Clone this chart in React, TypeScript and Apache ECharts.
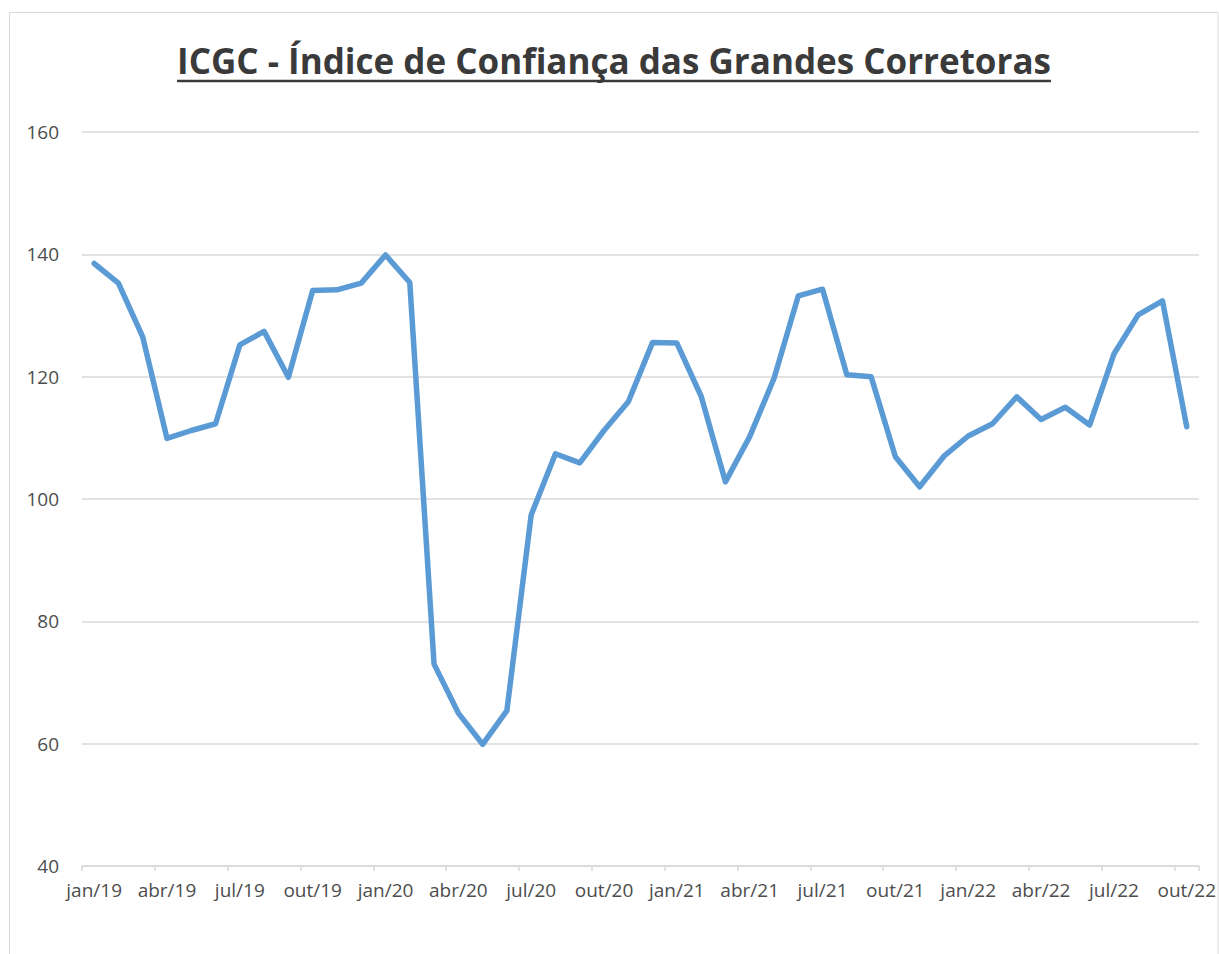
import React, { useEffect, useRef } from "react";
import * as echarts from "echarts";

const TITLE = "ICGC - Índice de Confiança das Grandes Corretoras";

const categories = [
  "jan/19", "fev/19", "mar/19", "abr/19", "mai/19", "jun/19", "jul/19", "ago/19", "set/19", "out/19", "nov/19", "dez/19",
  "jan/20", "fev/20", "mar/20", "abr/20", "mai/20", "jun/20", "jul/20", "ago/20", "set/20", "out/20", "nov/20", "dez/20",
  "jan/21", "fev/21", "mar/21", "abr/21", "mai/21", "jun/21", "jul/21", "ago/21", "set/21", "out/21", "nov/21", "dez/21",
  "jan/22", "fev/22", "mar/22", "abr/22", "mai/22", "jun/22", "jul/22", "ago/22", "set/22", "out/22",
];

const icgcValues = [
  138.5, 135.3, 126.5, 109.9, 111.2, 112.3, 125.2, 127.4, 119.9, 134.1, 134.2, 135.3,
  139.9, 135.4, 73.0, 65.0, 59.9, 65.4, 97.4, 107.4, 105.9, 111.2, 115.9, 125.6,
  125.5, 116.8, 102.8, 110.2, 119.7, 133.2, 134.3, 120.3, 120.0, 106.9, 102.0, 107.0,
  110.3, 112.3, 116.7, 113.0, 115.0, 112.1, 123.7, 130.1, 132.4, 111.8,
];

const yMin = 40;
const yMax = 160;
const yStep = 20;

const FONT = "'Open Sans', 'Liberation Sans', sans-serif";
const TITLE_SIZE = 35;
const TITLE_X = 614;
const TITLE_Y = 60;

function measure(text: string, font: string): number {
  const c = document.createElement("canvas");
  const ctx = c.getContext("2d");
  if (!ctx) return text.length * 18;
  ctx.font = font;
  return ctx.measureText(text).width;
}

export default function App() {
  const ref = useRef<HTMLDivElement>(null);

  useEffect(() => {
    document.body.style.margin = "0";
    if (!ref.current) return;
    const chart = echarts.init(ref.current, undefined, { renderer: "svg" });
    const tw = measure(TITLE, `bold ${TITLE_SIZE}px 'Open Sans'`);
    chart.setOption({
      animation: false,
      backgroundColor: "#ffffff",
      grid: { left: 82, right: 19, top: 132, bottom: 88, containLabel: false },
      graphic: [
        {
          type: "rect",
          shape: { x: 9.5, y: 12.5, width: 1208.5, height: 1000 },
          style: { fill: "none", stroke: "#d9d9d9", lineWidth: 1 },
          silent: true,
        },
        {
          type: "text",
          x: TITLE_X,
          y: TITLE_Y,
          style: {
            text: TITLE,
            fontFamily: FONT,
            fontWeight: "bold",
            fontSize: TITLE_SIZE,
            fill: "#3a3a3a",
            textAlign: "center",
            textVerticalAlign: "middle",
          },
        },
        {
          type: "line",
          shape: { x1: TITLE_X - tw / 2, y1: 81, x2: TITLE_X + tw / 2, y2: 81 },
          style: { stroke: "#3a3a3a", lineWidth: 2.5 },
        },
      ],
      xAxis: {
        type: "category",
        data: categories,
        boundaryGap: true,
        axisLine: { show: true, lineStyle: { color: "#d9d9d9", width: 1.5 } },
        axisTick: { show: true, interval: 2, length: 5, lineStyle: { color: "#d9d9d9", width: 1.5 } },
        axisLabel: {
          interval: 2,
          margin: 14,
          fontSize: 19,
          fontFamily: FONT,
          color: "#4d4d4d",
        },
        splitLine: { show: false },
      },
      yAxis: {
        type: "value",
        min: yMin,
        max: yMax,
        interval: yStep,
        axisLine: { show: false },
        axisTick: { show: false },
        axisLabel: { margin: 23, fontSize: 19, fontFamily: FONT, color: "#4d4d4d" },
        splitLine: { show: true, lineStyle: { color: "#d9d9d9", width: 1.5 } },
      },
      series: [
        {
          name: "ICGC",
          type: "line",
          data: icgcValues,
          symbol: "none",
          lineStyle: { color: "#5b9bd5", width: 5.5, cap: "round", join: "round" },
          itemStyle: { color: "#5b9bd5" },
        },
      ],
    });
    return () => chart.dispose();
  }, []);

  return <div ref={ref} style={{ width: 1219, height: 954 }} />;
}
